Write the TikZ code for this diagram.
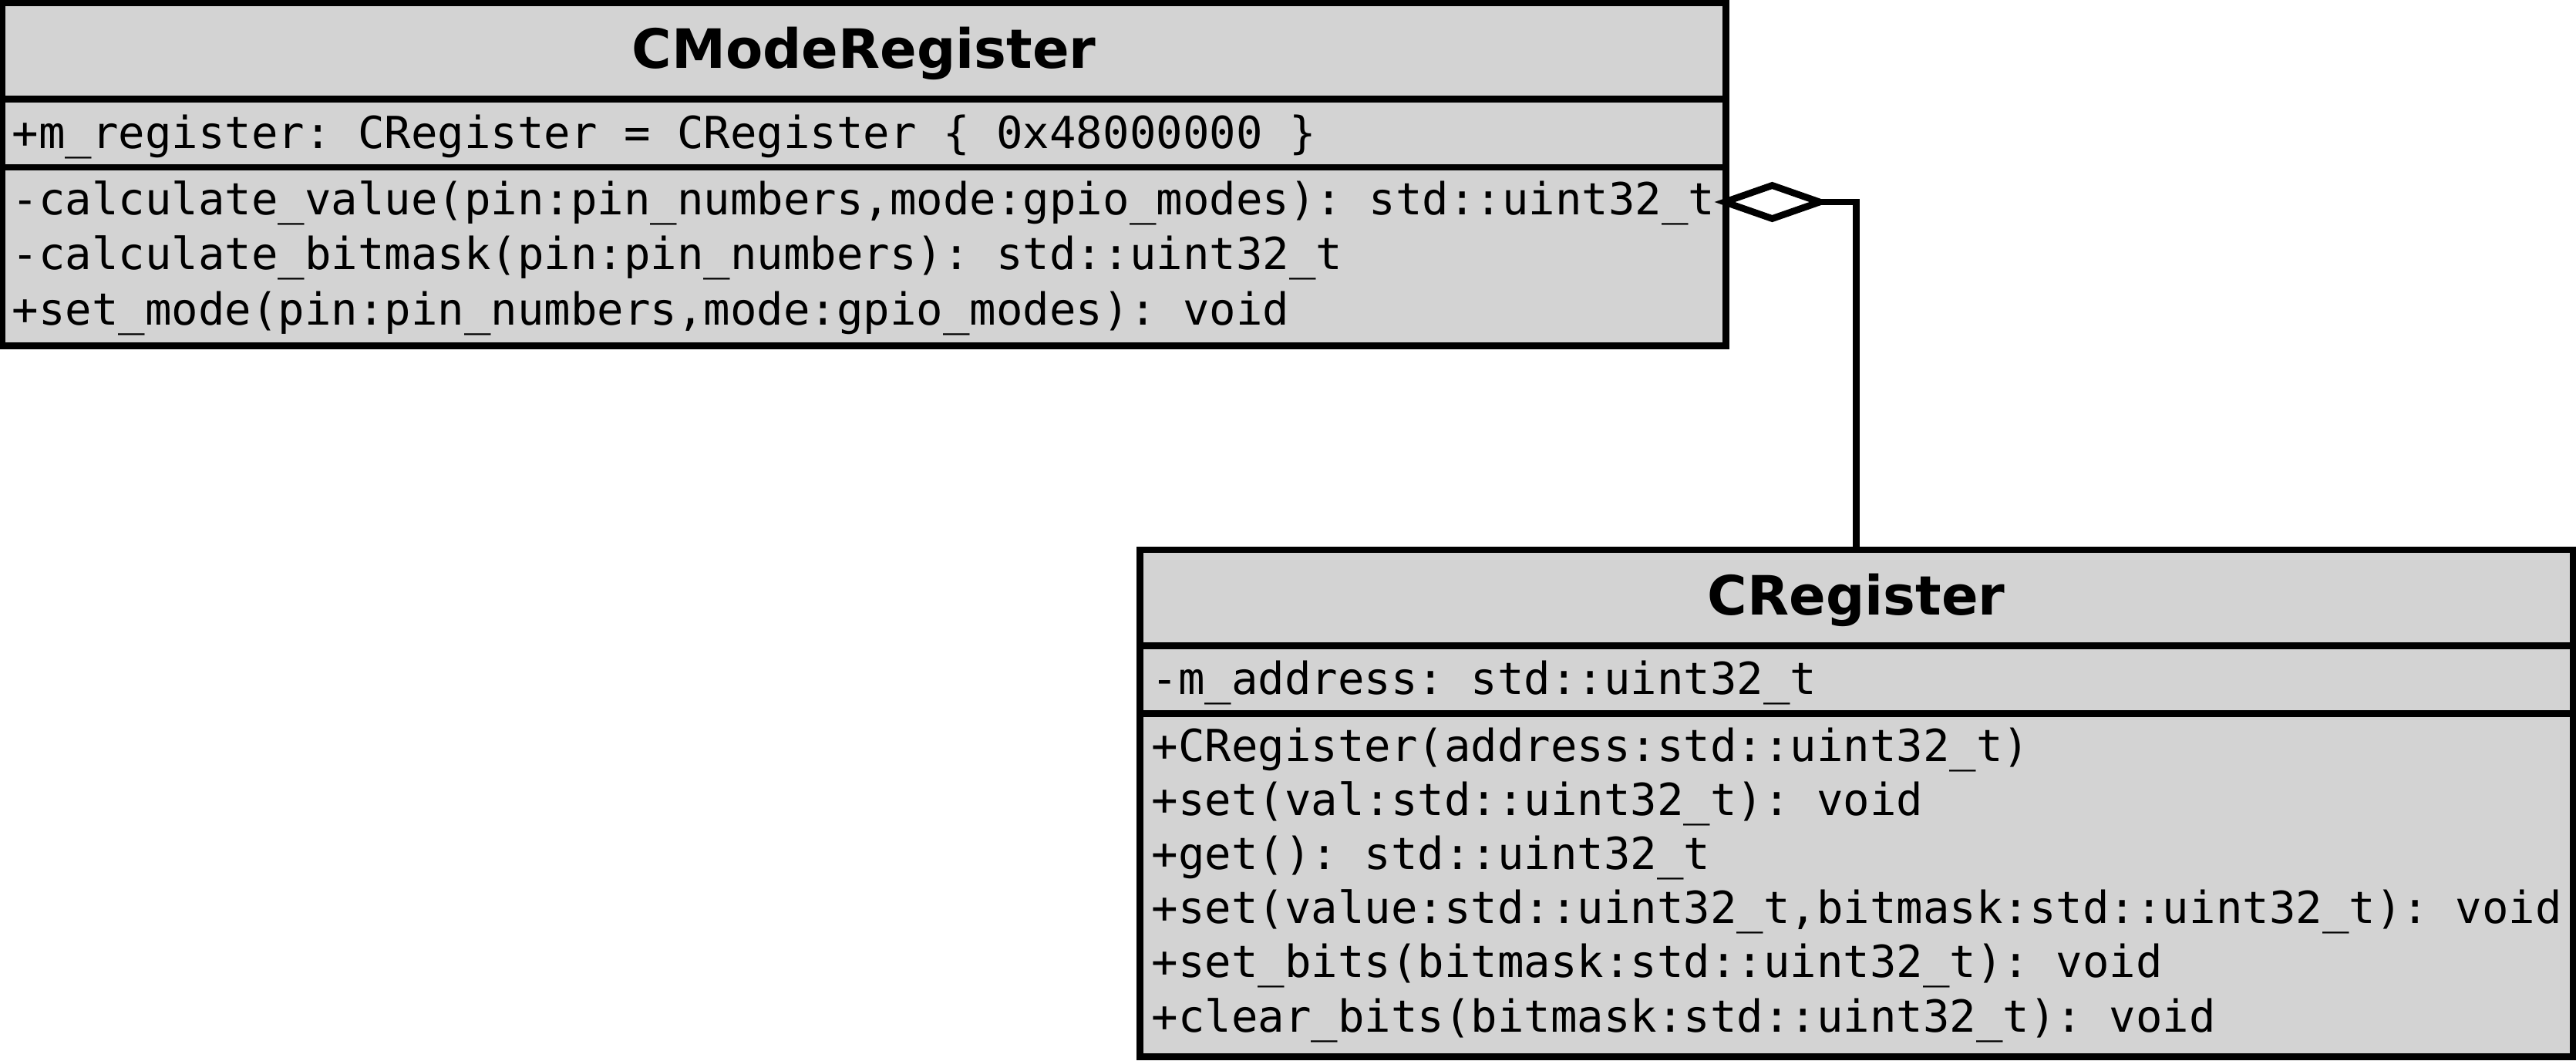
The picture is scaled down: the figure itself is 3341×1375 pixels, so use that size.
\documentclass[tikz,border=0pt]{standalone}
\usepackage{fontspec}
\setmainfont{DejaVu Sans}
\newfontfamily\monof{DejaVu Sans Mono}
\usetikzlibrary{shapes.geometric}
\definecolor{boxgray}{RGB}{211,211,211}
\tikzset{
  comp/.style={draw=black, fill=boxgray, line width=0.088cm, rectangle, inner sep=0pt, outer sep=0pt},
  ttl/.style={font=\fontsize{20pt}{24pt}\selectfont\bfseries, anchor=base, inner sep=0pt},
  mem/.style={font=\monof\fontsize{16.3pt}{19.6pt}\selectfont\frenchspacing, anchor=base west, inner sep=0pt},
  aggr/.style={diamond, draw=black, fill=white, line width=0.088cm, inner sep=0pt, outer sep=0pt,
               minimum width=1.23cm, minimum height=0.43cm},
  conn/.style={draw=black, line width=0.088cm}
}
\begin{document}
\begin{tikzpicture}[x=0.01cm, y=-0.01cm]
\useasboundingbox (0,0) rectangle (3341,1375);

% CModeRegister
\node[comp, minimum width=22.34cm, minimum height=1.245cm] (cmhead) at (1120.5,66.25) {};
\node[comp, minimum width=22.34cm, minimum height=0.885cm] (cmattr) at (1120.5,172.75) {};
\node[comp, minimum width=22.34cm, minimum height=2.315cm] (cmmeth) at (1120.5,332.75) {};
\node[ttl] (cmtitle) at (1120.5,88) {CModeRegister};
\node[mem] (cma1) at (15,192) {+m\_register: CRegister = CRegister \{ 0x48000000 \}};
\node[mem] (cmm1) at (15,278) {-calculate\_value(pin:pin\_numbers,mode:gpio\_modes): std::uint32\_t};
\node[mem] (cmm2) at (15,349.5) {-calculate\_bitmask(pin:pin\_numbers): std::uint32\_t};
\node[mem] (cmm3) at (15,421) {+set\_mode(pin:pin\_numbers,mode:gpio\_modes): void};

% CRegister
\node[comp, minimum width=18.575cm, minimum height=1.245cm] (crhead) at (2407.75,775.25) {};
\node[comp, minimum width=18.575cm, minimum height=0.885cm] (crattr) at (2407.75,881.75) {};
\node[comp, minimum width=18.575cm, minimum height=4.445cm] (crmeth) at (2407.75,1148.25) {};
\node[ttl] (crtitle) at (2407.75,797) {CRegister};
\node[mem] (cra1) at (1493,900) {-m\_address: std::uint32\_t};
\node[mem] (crm1) at (1493,987) {+CRegister(address:std::uint32\_t)};
\node[mem] (crm2) at (1493,1057) {+set(val:std::uint32\_t): void};
\node[mem] (crm3) at (1493,1127) {+get(): std::uint32\_t};
\node[mem] (crm4) at (1493,1197.5) {+set(value:std::uint32\_t,bitmask:std::uint32\_t): void};
\node[mem] (crm5) at (1493,1267.5) {+set\_bits(bitmask:std::uint32\_t): void};
\node[mem] (crm6) at (1493,1338) {+clear\_bits(bitmask:std::uint32\_t): void};

% aggregation
\node[aggr] (agg) at (2298.5,262) {};
\draw[conn] (crhead.north) |- (agg.east);
\end{tikzpicture}
\end{document}
